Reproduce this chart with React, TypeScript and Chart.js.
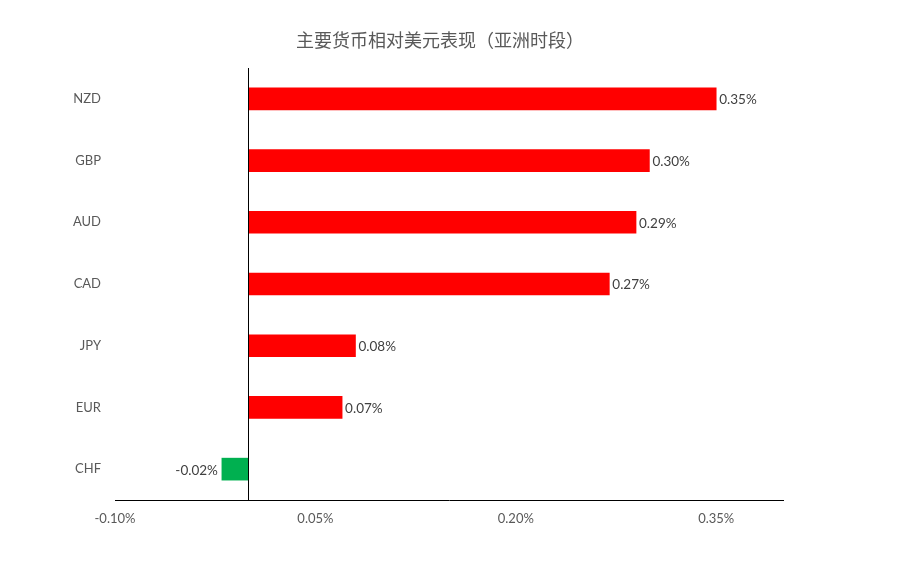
import React, { useEffect, useRef } from "react";
import { Chart, registerables } from "chart.js";

Chart.register(...registerables);

const TITLE = "主要货币相对美元表现（亚洲时段）";
const categories = ["NZD", "GBP", "AUD", "CAD", "JPY", "EUR", "CHF"];
const values = [0.35, 0.30, 0.29, 0.27, 0.08, 0.07, -0.02];
const barColors = values.map((v) => (v >= 0 ? "#FF0000" : "#00B050"));
const xMin = -0.1;
const xMax = 0.4;
const xTicks = [-0.1, 0.05, 0.2, 0.35];

const FONT = "Lato, 'Open Sans', 'Liberation Sans', sans-serif";

const extrasPlugin = {
  id: "extras",
  afterDatasetsDraw(chart: any) {
    const { ctx, chartArea } = chart;
    const xs = chart.scales.x;
    const zx = Math.floor(xs.getPixelForValue(0)) + 0.5;
    ctx.save();
    ctx.strokeStyle = "#000000";
    ctx.lineWidth = 1;
    ctx.beginPath();
    ctx.moveTo(zx, chartArea.top);
    ctx.lineTo(zx, chartArea.bottom);
    ctx.stroke();
    // data labels
    const meta = chart.getDatasetMeta(0);
    ctx.font = "13.5px " + FONT;
    ctx.fillStyle = "#404040";
    ctx.textBaseline = "middle";
    meta.data.forEach((bar: any, i: number) => {
      const v = values[i];
      const txt = v.toFixed(2) + "%";
      if (v >= 0) {
        ctx.textAlign = "left";
        ctx.fillText(txt, bar.x + 3, bar.y + 1);
      } else {
        ctx.textAlign = "right";
        ctx.fillText(txt, bar.x - 4, bar.y + 1);
      }
    });
    // title
    ctx.font = "18px 'Noto Sans CJK SC', sans-serif";
    ctx.fillStyle = "#595959";
    ctx.textAlign = "center";
    ctx.fillText(TITLE, 440, 40);
    ctx.restore();
  },
};

export default function App() {
  const ref = useRef<HTMLCanvasElement>(null);
  useEffect(() => {
    document.body.style.margin = "0";
    const chart = new Chart(ref.current!, {
      type: "bar",
      data: {
        labels: categories,
        datasets: [
          {
            data: values,
            backgroundColor: barColors,
            barThickness: 22,
            borderWidth: 0,
          },
        ],
      },
      plugins: [extrasPlugin],
      options: {
        indexAxis: "y",
        animation: false,
        responsive: false,
        layout: { padding: { top: 68, right: 122, left: 0, bottom: 0 } },
        plugins: {
          legend: { display: false },
          tooltip: { enabled: false },
          title: { display: false },
        },
        scales: {
          x: {
            min: xMin,
            max: xMax,
            afterFit(scale: any) {
              scale.height = 70;
            },
            afterBuildTicks(scale: any) {
              scale.ticks = xTicks.map((v) => ({ value: v }));
            },
            ticks: {
              padding: 11,
              color: "#595959",
              font: { size: 13, family: FONT },
              callback: (v: any) => Number(v).toFixed(2) + "%",
            },
            grid: { display: false, drawTicks: false },
            border: { display: true, color: "#000000", width: 1 },
          },
          y: {
            afterFit(scale: any) {
              scale.width = 115;
            },
            ticks: {
              padding: 14,
              color: "#595959",
              font: { size: 13, family: FONT },
            },
            grid: { display: false, drawTicks: false },
            border: { display: false },
          },
        },
      },
    });
    return () => chart.destroy();
  }, []);
  return <canvas ref={ref} width={905} height={570} style={{ display: "block" }} />;
}
